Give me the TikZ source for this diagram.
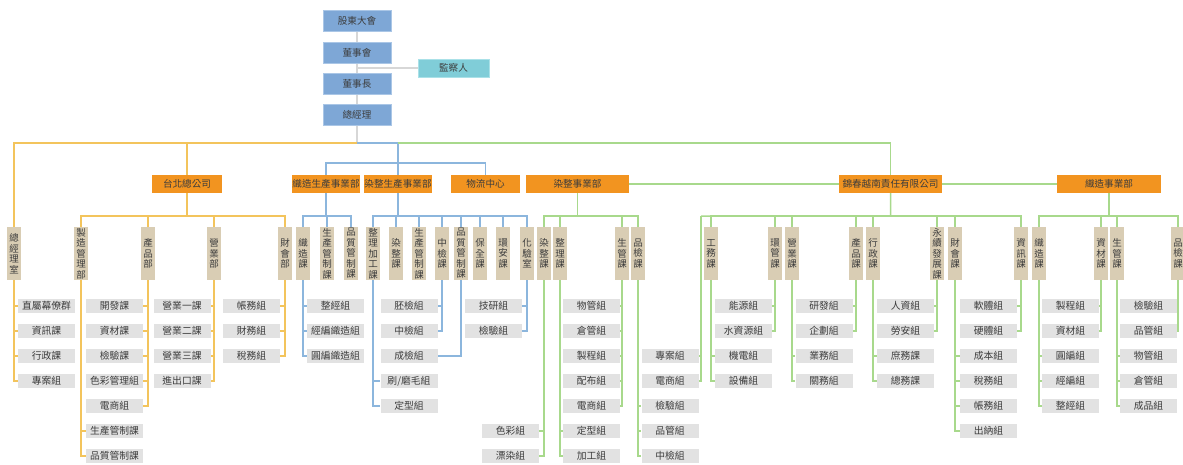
\documentclass[tikz,border=0pt]{standalone}
\usepackage{fontspec}
\setmainfont{Noto Sans CJK TC}
\definecolor{topblue}{RGB}{126,167,214}
\definecolor{topline}{RGB}{170,198,230}
\definecolor{jcrteal}{RGB}{128,205,216}
\definecolor{jcrline}{RGB}{170,225,232}
\definecolor{unitorange}{RGB}{242,148,32}
\definecolor{secttan}{RGB}{217,205,180}
\definecolor{grpgray}{RGB}{226,226,226}
\definecolor{txtgray}{RGB}{60,60,60}
\definecolor{linegray}{RGB}{215,215,215}
\definecolor{lineyellow}{RGB}{243,196,92}
\definecolor{lineblue}{RGB}{140,182,221}
\definecolor{linegreen}{RGB}{168,217,140}

\begin{document}
\begin{tikzpicture}[x=1pt,y=-1pt,
  box/.style={inner sep=0pt,text=txtgray,font=\fontsize{9.6}{10}\selectfont},
  top/.style={box,fill=topblue,draw=topline,line width=1pt,minimum width=68pt,minimum height=21pt},
  unit/.style={box,fill=unitorange,minimum height=18pt},
  sect/.style={box,fill=secttan,minimum width=14pt,minimum height=53pt,align=center,font=\fontsize{9.5}{10.5}\selectfont},
  grp/.style={box,fill=grpgray,minimum width=57pt,minimum height=14pt,font=\fontsize{9.8}{10}\selectfont},
  gy/.style={draw=linegray,line width=1.5pt},
  yl/.style={draw=lineyellow,line width=1.5pt},
  bl/.style={draw=lineblue,line width=1.5pt},
  gl/.style={draw=linegreen,line width=1.5pt}]
\path[use as bounding box,fill=white] (0,0) rectangle (1183,464);

\node[top] (gdh) at (357,21) {股東大會};
\node[top] (dsh) at (357,52.5) {董事會};
\node[top] (dsz) at (357,83.5) {董事長};
\node[top] (zjl) at (357,115) {總經理};
\node[top,fill=jcrteal,draw=jcrline,minimum width=71pt,minimum height=18pt] (jcr) at (453.5,68) {監察人};
\coordinate (hub) at (357,143);
\coordinate (jcl) at (701,216);
\draw[gy] (gdh) -- (dsh) (dsh) -- (dsz) (dsz) -- (zjl) (zjl) -- (hub);
\draw[gy] (dsh.south |- jcr) -- (jcr);

\foreach \nm/\xx/\w/\txt in {tbz/187/70/台北總公司, zzsc/326/68/織造生產事業部, rzsc/398/68/染整生產事業部,
  wlzx/485.5/69/物流中心, rzsy/577.5/103/染整事業部, jcvn/890.5/103/錦春越南責任有限公司, zzsy/1109/104/織造事業部}
  \node[unit,minimum width=\w pt] (\nm) at (\xx,184) {\txt};

\node[sect] (zjls) at (14,253.5) {總\\經\\理\\室};
\draw[yl] (hub) -| (zjls.north);
\draw[yl] (tbz) |- (hub);
\draw[bl] (hub) -| (rzsc);
\draw[bl] (zzsc) |- ([yshift=12pt]rzsc.north) -| (wlzx);
\draw[gl] (rzsc.north |- hub) -| (jcvn);
\draw[gl] (rzsy) -- (jcvn) (jcvn) -- (zzsy);
\draw[gl] (jcvn.south) -- ++(0,-23pt) -- (jcl);

\foreach \nm/\xx/\pa/\lc/\txt in {
  zzgl/81/tbz/yl/{製\\造\\管\\理\\部}, cpb/148/tbz/yl/{產\\品\\部}, yyb/214/tbz/yl/{營\\業\\部}, chb/285/tbz/yl/{財\\會\\部},
  zzk/303/zzsc/bl/{織\\造\\課}, sck/327/zzsc/bl/{生\\產\\管\\制\\課}, pzk/351/zzsc/bl/{品\\質\\管\\制\\課},
  zlk/373/rzsc/bl/{整\\理\\加\\工\\課}, rzk/396/rzsc/bl/{染\\整\\課}, sck2/419/rzsc/bl/{生\\產\\管\\制\\課},
  zjk/442/rzsc/bl/{中\\檢\\課}, pzk2/461/rzsc/bl/{品\\質\\管\\制\\課}, bqk/480/rzsc/bl/{保\\全\\課},
  hak/503/rzsc/bl/{環\\安\\課}, hys/527/rzsc/bl/{化\\驗\\室},
  rzk2/544/rzsy/gl/{染\\整\\課}, zlk2/560/rzsy/gl/{整\\理\\課}, sgk/622/rzsy/gl/{生\\管\\課}, pjk/638/rzsy/gl/{品\\檢\\課},
  gwk/711/jcvn/gl/{工\\務\\課}, hgk/775/jcvn/gl/{環\\管\\課}, yyk/792/jcvn/gl/{營\\業\\課}, cpk/856/jcvn/gl/{產\\品\\課},
  xzk/873/jcvn/gl/{行\\政\\課}, yxk/937/jcvn/gl/{永\\續\\發\\展\\課}, chk/955/jcvn/gl/{財\\會\\課}, zxk/1021/jcvn/gl/{資\\訊\\課},
  zzk2/1039/zzsy/gl/{織\\造\\課}, zck/1101/zzsy/gl/{資\\材\\課}, sgk2/1117/zzsy/gl/{生\\管\\課}, pjk2/1178/zzsy/gl/{品\\檢\\課}}
 {\node[sect] (\nm) at (\xx,253.5) {\txt};
  \draw[\lc] (\pa.south) -- ++(0,-23pt) -| (\nm.north);}

\foreach \pa/\side/\cx/\lc/\kids in {
  zjls/west/46.5/yl/{306/直屬幕僚群,331/資訊課,356/行政課,381/專案組},
  cpb/east/114.5/yl/{306/開發課,331/資材課,356/檢驗課,381/色彩管理組,406/電商組},
  zzgl/west/114.5/yl/{431/生產管制課,456/品質管制課},
  yyb/east/182/yl/{306/營業一課,331/營業二課,356/營業三課,381/進出口課},
  chb/east/251.5/yl/{306/帳務組,331/財務組,356/稅務組},
  zzk/west/335.5/bl/{306/整經組,331/經編織造組,356/圓編織造組},
  zlk/west/409/bl/{381/{刷/磨毛組},406/定型組},
  zjk/east/409/bl/{306/胚檢組,331/中檢組},
  pzk2/east/409/bl/{356/成檢組},
  hys/east/493.5/bl/{306/技研組,331/檢驗組},
  rzk2/east/510.5/gl/{431/色彩組,456/漂染組},
  zlk2/west/591.5/gl/{431/定型組,456/加工組},
  sgk/east/591.5/gl/{306/物管組,331/倉管組,356/製程組,381/配布組,406/電商組},
  pjk/west/670/gl/{406/檢驗組,431/品管組,456/中檢組},
  gwk/west/743.5/gl/{356/機電組,381/設備組},
  hgk/east/743.5/gl/{306/能源組,331/水資源組},
  yyk/west/824/gl/{356/業務組,381/關務組},
  cpk/east/824/gl/{306/研發組,331/企劃組},
  xzk/west/905.5/gl/{356/庶務課,381/總務課},
  yxk/east/905.5/gl/{306/人資組,331/勞安組},
  chk/west/988.5/gl/{356/成本組,381/稅務組,406/帳務組,431/出納組},
  zxk/east/988.5/gl/{306/軟體組,331/硬體組},
  zzk2/west/1070.5/gl/{356/圓編組,381/經編組,406/整經組},
  zck/east/1070.5/gl/{306/製程組,331/資材組},
  sgk2/west/1148.5/gl/{356/物管組,381/倉管組,406/成品組},
  pjk2/east/1148.5/gl/{306/檢驗組,331/品管組}}
  \foreach \yy/\txt [count=\i] in \kids {
    \node[grp] (\pa-\i) at (\cx,\yy) {\txt};
    \draw[\lc] (\pa.south) |- (\pa-\i.\side);
  }

\foreach \yy/\txt [count=\i] in {356/專案組,381/電商組} {
  \node[grp] (jcvn-\i) at (670,\yy) {\txt};
  \draw[gl] (jcl) |- (jcvn-\i.east);
}
\end{tikzpicture}
\end{document}
